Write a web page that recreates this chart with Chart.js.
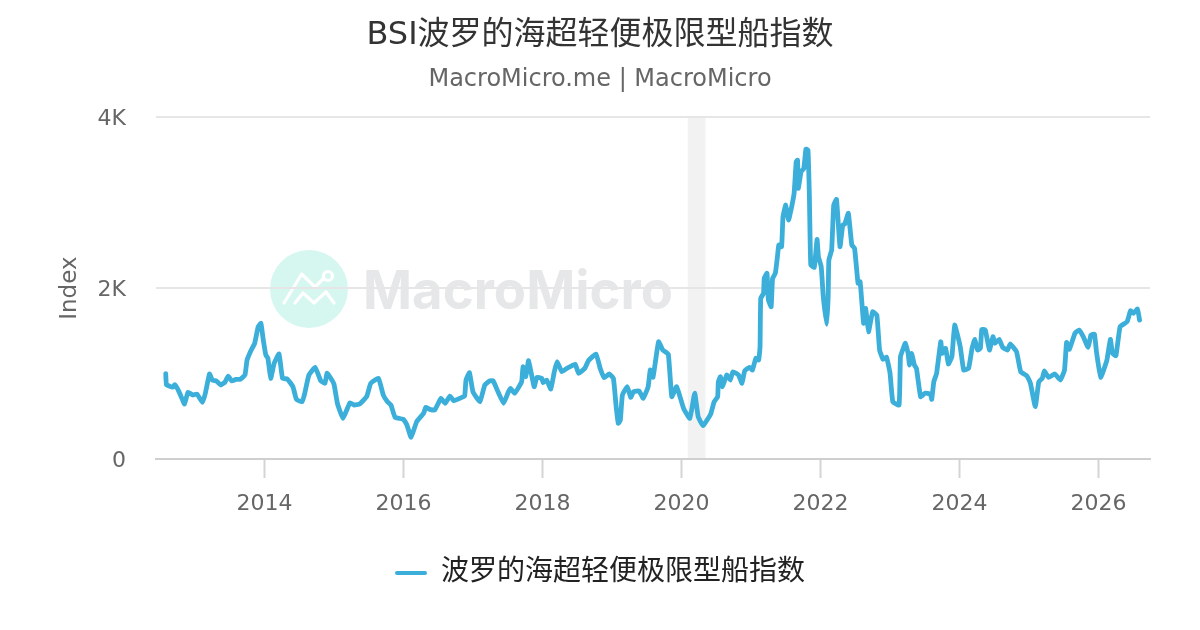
<!DOCTYPE html>
<html><head><meta charset="utf-8">
<style>html,body{margin:0;padding:0;background:#fff}canvas{display:block}</style>
<script src="https://cdn.jsdelivr.net/npm/chart.js@4"></script></head>
<body><canvas id="c" width="1200" height="630" style="width:1200px;height:630px"></canvas>
<script>
const chartTitle = "BSI波罗的海超轻便极限型船指数";
const chartSubtitle = "MacroMicro.me | MacroMicro";
const seriesName = "波罗的海超轻便极限型船指数";
const yAxisLabel = "Index";
const yTickValues = {0:"0",2000:"2K",4000:"4K"};
const recession = [2020.09, 2020.345];
const years = [2012.58,2012.59,2012.64,2012.68,2012.71,2012.76,2012.81,2012.85,2012.90,2012.97,2013.03,2013.11,2013.15,2013.21,2013.25,2013.31,2013.37,2013.43,2013.48,2013.53,2013.59,2013.65,2013.72,2013.75,2013.81,2013.86,2013.91,2013.95,2013.98,2014.02,2014.05,2014.09,2014.14,2014.21,2014.26,2014.33,2014.41,2014.46,2014.54,2014.58,2014.64,2014.73,2014.81,2014.87,2014.90,2014.94,2015.00,2015.05,2015.13,2015.23,2015.29,2015.37,2015.47,2015.53,2015.64,2015.71,2015.77,2015.82,2015.88,2016.00,2016.05,2016.11,2016.19,2016.29,2016.32,2016.38,2016.45,2016.54,2016.60,2016.67,2016.72,2016.81,2016.88,2016.90,2016.95,2017.00,2017.10,2017.17,2017.24,2017.29,2017.36,2017.44,2017.51,2017.54,2017.60,2017.70,2017.72,2017.76,2017.80,2017.88,2017.92,2017.99,2018.01,2018.06,2018.12,2018.17,2018.21,2018.28,2018.35,2018.47,2018.52,2018.61,2018.66,2018.77,2018.83,2018.89,2018.96,2019.02,2019.06,2019.09,2019.12,2019.15,2019.22,2019.27,2019.31,2019.39,2019.45,2019.52,2019.55,2019.59,2019.67,2019.73,2019.81,2019.86,2019.93,2020.03,2020.12,2020.19,2020.24,2020.31,2020.42,2020.47,2020.52,2020.53,2020.56,2020.59,2020.65,2020.70,2020.74,2020.82,2020.87,2020.91,2020.98,2021.02,2021.07,2021.11,2021.13,2021.14,2021.18,2021.19,2021.23,2021.25,2021.29,2021.31,2021.35,2021.38,2021.40,2021.44,2021.46,2021.50,2021.54,2021.59,2021.62,2021.65,2021.67,2021.68,2021.72,2021.76,2021.79,2021.82,2021.84,2021.86,2021.91,2021.95,2021.97,2022.01,2022.04,2022.09,2022.11,2022.12,2022.16,2022.19,2022.23,2022.28,2022.32,2022.35,2022.40,2022.45,2022.49,2022.54,2022.57,2022.62,2022.65,2022.69,2022.75,2022.81,2022.85,2022.90,2022.95,2023.00,2023.04,2023.13,2023.15,2023.19,2023.22,2023.26,2023.28,2023.31,2023.35,2023.38,2023.44,2023.50,2023.58,2023.60,2023.63,2023.67,2023.73,2023.75,2023.80,2023.84,2023.89,2023.93,2024.01,2024.06,2024.13,2024.18,2024.22,2024.26,2024.30,2024.32,2024.37,2024.43,2024.48,2024.51,2024.57,2024.62,2024.69,2024.73,2024.82,2024.88,2024.97,2025.02,2025.09,2025.14,2025.19,2025.22,2025.28,2025.37,2025.45,2025.51,2025.54,2025.58,2025.66,2025.72,2025.78,2025.85,2025.89,2025.94,2025.97,2026.03,2026.12,2026.17,2026.20,2026.25,2026.31,2026.41,2026.46,2026.50,2026.56,2026.59];
const values = [1000,870,850,840,870,807,714,644,780,749,760,663,769,995,924,913,866,897,971,913,932,932,983,1158,1275,1354,1548,1588,1412,1217,1178,944,1120,1229,944,936,846,698,670,769,983,1073,916,886,1003,963,878,652,476,659,632,644,729,886,944,749,670,632,488,464,398,254,436,535,605,581,573,710,652,737,682,710,737,924,1010,787,670,866,913,916,787,652,787,827,769,904,1080,963,1150,846,956,944,893,924,819,1021,1138,1021,1061,1108,1003,1061,1150,1229,1061,951,995,944,612,418,456,749,846,722,787,796,710,846,1041,956,1372,1275,1225,729,846,593,476,769,495,390,527,670,729,904,963,846,983,924,1021,983,886,1033,1073,1041,1178,1158,1314,1880,1939,2114,2173,1860,1782,2114,2173,2367,2504,2484,2835,2972,2796,2972,3109,3478,3498,3167,3361,3401,3627,3615,3069,2270,2243,2570,2367,2250,1899,1576,1899,2328,2445,2972,3038,2484,2738,2750,2875,2504,2465,2056,2074,1588,1763,1489,1723,1685,1275,1166,1190,1003,670,632,1197,1295,1354,1237,1100,1237,1100,1061,729,769,760,698,904,1003,1372,1237,1295,1112,1197,1568,1314,1041,1061,1295,1400,1275,1295,1517,1509,1275,1431,1354,1400,1307,1275,1346,1255,1021,971,886,612,904,944,1030,956,995,924,1041,1365,1283,1471,1509,1431,1307,1451,1462,1255,956,1158,1400,1237,1209,1548,1606,1735,1705,1755,1626];

const FONT = '"DejaVu Sans","Noto Sans CJK SC",sans-serif';

const backdrop = {
  id:'backdrop',
  beforeDraw(chart){
    const {ctx,chartArea:a,scales:{x}} = chart;
    ctx.save();
    ctx.fillStyle='#f2f2f2';
    const x0=x.getPixelForValue(recession[0]), x1=x.getPixelForValue(recession[1]);
    ctx.fillRect(x0,a.top,x1-x0,a.bottom-a.top);
    ctx.fillStyle='#d5f7ef';
    ctx.beginPath();ctx.arc(309,289,39,0,Math.PI*2);ctx.fill();
    ctx.strokeStyle='#fff';ctx.lineWidth=3.2;ctx.lineCap='round';ctx.lineJoin='round';
    ctx.beginPath();ctx.moveTo(284,303);ctx.lineTo(301.7,274);ctx.lineTo(315,287);ctx.lineTo(323,279);ctx.stroke();
    ctx.beginPath();ctx.moveTo(295,303);ctx.lineTo(303,293);ctx.lineTo(314,303);ctx.lineTo(326,292);ctx.lineTo(334,303);ctx.stroke();
    ctx.beginPath();ctx.arc(328,276,4.5,0,Math.PI*2);ctx.stroke();
    ctx.fillStyle='#e6e7e8';ctx.font='bold 54px Inter,'+FONT;
    ctx.textAlign='left';ctx.textBaseline='alphabetic';
    ctx.fillText('MacroMicro',363,309,310);
    ctx.restore();
  }
};

new Chart(document.getElementById('c'),{
  type:'line',
  data:{datasets:[{label:seriesName,data:years.map((y,i)=>({x:y,y:values[i]})),
    borderColor:'#3bafda',backgroundColor:'#3bafda',borderWidth:4.8,pointRadius:0,tension:0.12,
    borderJoinStyle:'round',borderCapStyle:'round',fill:false}]},
  options:{
    responsive:false,animation:false,devicePixelRatio:1,
    layout:{padding:{left:0,right:0,top:0,bottom:33}},
    plugins:{
      title:{display:true,text:chartTitle,color:'#333',font:{family:FONT,size:32,weight:'normal'},padding:{top:16,bottom:9}},
      subtitle:{display:true,text:chartSubtitle,color:'#666',font:{family:FONT,size:24,weight:'normal'},padding:{top:2,bottom:23}},
      legend:{position:'bottom',labels:{boxWidth:32,boxHeight:4,color:'#222',font:{family:FONT,size:28},padding:20,
        generateLabels(chart){
          return chart.data.datasets.map((d,i)=>({text:d.label,fillStyle:d.borderColor,strokeStyle:d.borderColor,lineWidth:0,fontColor:'#222',datasetIndex:i,borderRadius:2}));
        }}},
      tooltip:{enabled:false}
    },
    scales:{
      x:{type:'linear',min:2012.44,max:2026.74,
        border:{display:true,color:'#cfcfcf',width:2},
        grid:{display:true,drawOnChartArea:false,drawTicks:true,tickLength:19,tickColor:'#d4d4d4',tickWidth:2},
        ticks:{stepSize:2,includeBounds:false,autoSkip:false,maxRotation:0,minRotation:0,color:'#666',padding:13,font:{family:FONT,size:22},callback:v=>String(v)},
        afterFit(s){s.height=80}},
      y:{type:'linear',min:0,max:4000,
        border:{display:false},
        grid:{color:'#e6e6e6',lineWidth:2,drawTicks:false},
        ticks:{stepSize:2000,color:'#666',padding:30,labelOffset:2,font:{family:FONT,size:22},callback:v=>yTickValues[v]},
        title:{display:true,text:yAxisLabel,color:'#666',font:{family:FONT,size:23},padding:{top:56,bottom:0}},
        afterFit(s){s.width=156}},
      rightGutter:{type:'linear',position:'right',min:0,max:4000,
        border:{display:false},grid:{display:false,drawTicks:false},ticks:{display:false},
        afterFit(s){s.width=50}}
    }
  },
  plugins:[backdrop]
});
</script></body></html>
